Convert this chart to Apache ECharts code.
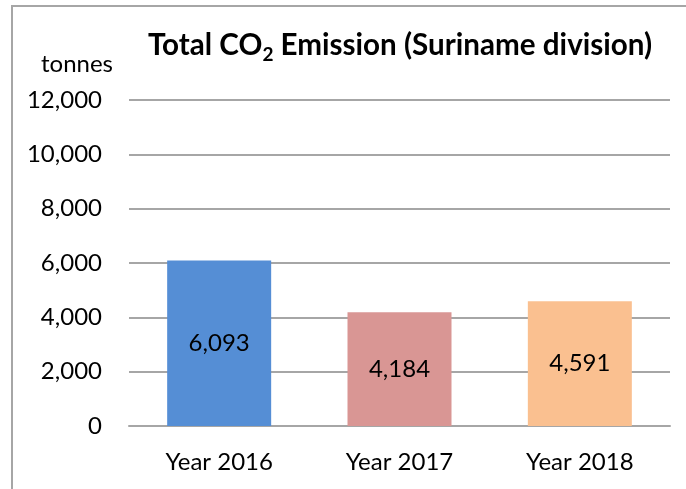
<!DOCTYPE html>
<html>
<head>
<meta charset="utf-8">
<script src="https://cdn.jsdelivr.net/npm/echarts@6/dist/echarts.min.js"></script>
<style>
html,body{margin:0;padding:0;background:#fff;}
#c{width:686px;height:489px;}
</style>
</head>
<body>
<div id="c"></div>
<script>
const categories = ['Year 2016', 'Year 2017', 'Year 2018'];
const values = [6093, 4184, 4591];
const barColors = ['#558ED5', '#D99694', '#FAC090'];
const yTicks = { min: 0, max: 12000, interval: 2000 };
const titleParts = ['Total CO', '2', ' Emission (Suriname division)'];
const yName = 'tonnes';

const FONT = 'Lato';
const fmt = v => v.toLocaleString('en-US');

const chart = echarts.init(document.getElementById('c'), null, { renderer: 'canvas' });
chart.setOption({
  animation: false,
  backgroundColor: '#fff',
  textStyle: { fontFamily: FONT },
  title: {
    text: '{a|' + titleParts[0] + '}{b|' + titleParts[1] + '}{a|' + titleParts[2] + '}',
    left: 395, top: 27, textAlign: 'center',
    textStyle: {
      rich: {
        a: { fontFamily: FONT, fontSize: 29.6, fontWeight: 'bold', color: '#000', lineHeight: 32, verticalAlign: 'bottom', padding: [0, 0, 4, 0] },
        b: { fontFamily: FONT, fontSize: 19, fontWeight: 'bold', color: '#000', lineHeight: 20, verticalAlign: 'bottom' }
      }
    }
  },
  graphic: [{
    type: 'polyline',
    shape: { points: [[12, 489], [12, 6], [686, 6]] },
    style: { stroke: '#A6A6A6', lineWidth: 2, fill: null },
    silent: true
  }],
  grid: { left: 129, right: 16, top: 100, bottom: 63, containLabel: false },
  xAxis: {
    type: 'category',
    data: categories,
    axisLine: { show: true, lineStyle: { color: '#A6A6A6', width: 2 } },
    axisTick: { show: false },
    axisLabel: { color: '#000', fontSize: 24, fontFamily: FONT, margin: 24 }
  },
  yAxis: {
    type: 'value',
    min: yTicks.min, max: yTicks.max, interval: yTicks.interval,
    name: yName,
    nameLocation: 'end',
    nameGap: 24,
    nameTextStyle: { color: '#000', fontSize: 24, fontFamily: FONT, align: 'right', padding: [0, 16, 0, 0] },
    axisLine: { show: false },
    axisTick: { show: false },
    splitLine: { lineStyle: { color: '#A6A6A6', width: 2 } },
    axisLabel: { color: '#000', fontSize: 24, fontFamily: FONT, margin: 27, formatter: v => fmt(v) }
  },
  series: [{
    type: 'bar',
    data: values.map((v, i) => ({ value: v, itemStyle: { color: barColors[i] } })),
    barWidth: 104,
    label: { show: true, position: 'inside', color: '#000', fontSize: 24, fontFamily: FONT, formatter: p => fmt(p.value) }
  }]
});
</script>
</body>
</html>
